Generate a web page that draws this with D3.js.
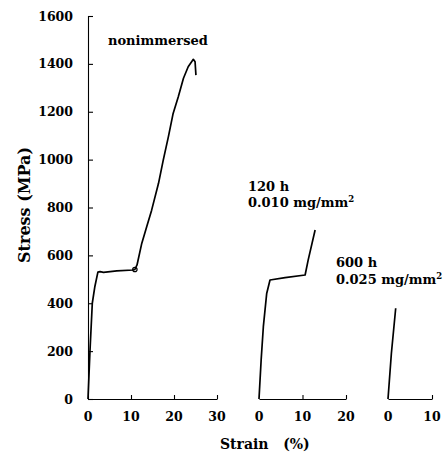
<!DOCTYPE html>
<html>
<head>
<meta charset="utf-8">
<script src="https://cdn.jsdelivr.net/npm/d3@7"></script>
<style>
  html, body { margin: 0; padding: 0; background: #fff; }
  svg text { font-family: "DejaVu Serif", "Liberation Serif", serif; font-weight: bold; fill: #000; }
</style>
</head>
<body>
<svg id="chart" width="446" height="457"></svg>
<script>
// Stress axis ticks (MPa)
const stressTicks = [0, 200, 400, 600, 800, 1000, 1200, 1400, 1600];

// Strain tick labels for each panel (%)
const strainTicksA = [0, 10, 20, 30];
const strainTicksB = [0, 10, 20];
const strainTicksC = [0, 10];

// Nonimmersed specimen
const nonimmersedStrain = [0, 0.47, 1.0, 1.6, 2.3, 2.8, 3.6, 6.7, 10.5, 10.9, 11.4, 12.5, 13.65, 14.8, 16.4, 17.5, 18.7, 19.8, 21.0, 22.2, 23.3, 24.5, 24.9, 25.1];
const nonimmersedStress = [0, 205, 400, 470, 530, 532, 529, 535, 539, 541, 560, 650, 720, 789, 901, 998, 1096, 1193, 1263, 1340, 1388, 1419, 1409, 1353];

// 120 h immersion, 0.010 mg/mm2
const h120Strain = [0, 0.5, 1.0, 1.77, 2.53, 6.0, 10.6, 11.3, 12.9];
const h120Stress = [0, 165, 302, 441, 497, 507, 518, 580, 706];

// 600 h immersion, 0.025 mg/mm2
const h600Strain = [0, 0.77, 1.75];
const h600Stress = [0, 191, 379];

const svg = d3.select("#chart");

const y = d3.scaleLinear().domain([0, 1600]).range([399, 16]);

const panels = [
  { x: d3.scaleLinear().domain([0, 30]).range([88, 217]), ticks: strainTicksA, strain: nonimmersedStrain, stress: nonimmersedStress },
  { x: d3.scaleLinear().domain([0, 20]).range([259, 346]), ticks: strainTicksB, strain: h120Strain, stress: h120Stress },
  { x: d3.scaleLinear().domain([0, 10]).range([388, 432]), ticks: strainTicksC, strain: h600Strain, stress: h600Stress }
];

// Stress axis with inward ticks
const yAxis = svg.append("g").attr("transform", "translate(88,0)")
  .call(d3.axisRight(y).tickValues(stressTicks).tickSize(5).tickFormat(""));
yAxis.select(".domain").attr("stroke-width", 1.1);
yAxis.selectAll(".tick line").attr("stroke-width", 1.1);

svg.append("g").selectAll("text").data(stressTicks).join("text")
  .attr("x", 73).attr("y", d => y(d)).attr("dy", "0.36em")
  .attr("text-anchor", "end").attr("font-size", 12.5)
  .text(d => d);

panels.forEach(p => {
  // Strain axis with upward ticks
  const g = svg.append("g").attr("transform", `translate(0,${y(0)})`)
    .call(d3.axisTop(p.x).tickValues(p.ticks.filter(t => t > 0)).tickSize(4).tickSizeOuter(0).tickFormat(""));
  g.select(".domain").attr("stroke-width", 1.1);
  g.selectAll(".tick line").attr("stroke-width", 1.1);

  svg.append("g").selectAll("text").data(p.ticks).join("text")
    .attr("x", d => p.x(d)).attr("y", 421)
    .attr("text-anchor", "middle").attr("font-size", 12.5)
    .text(d => d);

  const pts = p.strain.map((s, i) => [s, p.stress[i]]);
  svg.append("path").datum(pts)
    .attr("fill", "none").attr("stroke", "#000").attr("stroke-width", 1.7)
    .attr("stroke-linejoin", "round")
    .attr("d", d3.line().x(d => p.x(d[0])).y(d => y(d[1])));
});

// Small marker at the end of the plateau of the nonimmersed curve
svg.append("circle")
  .attr("cx", panels[0].x(nonimmersedStrain[9])).attr("cy", y(nonimmersedStress[9]))
  .attr("r", 2.2).attr("fill", "none").attr("stroke", "#000").attr("stroke-width", 1.2);

// Curve annotations
svg.append("text").attr("x", 108).attr("y", 45).attr("font-size", 13).text("nonimmersed");

svg.append("text").attr("x", 248).attr("y", 191).attr("font-size", 13).text("120 h");
const t1 = svg.append("text").attr("x", 248).attr("y", 207).attr("font-size", 13);
t1.append("tspan").text("0.010 mg/mm");
t1.append("tspan").attr("font-size", 8.5).attr("dy", -5).text("2");

svg.append("text").attr("x", 336).attr("y", 267).attr("font-size", 13).text("600 h");
const t2 = svg.append("text").attr("x", 336).attr("y", 284).attr("font-size", 13);
t2.append("tspan").text("0.025 mg/mm");
t2.append("tspan").attr("font-size", 8.5).attr("dy", -5).text("2");

// Axis titles
svg.append("text")
  .attr("transform", "translate(30,205) rotate(-90)")
  .attr("text-anchor", "middle").attr("font-size", 16)
  .text("Stress (MPa)");

svg.append("text")
  .attr("x", 220).attr("y", 449).attr("font-size", 14)
  .text("Strain\u00a0\u00a0\u00a0(%)");
</script>
</body>
</html>
